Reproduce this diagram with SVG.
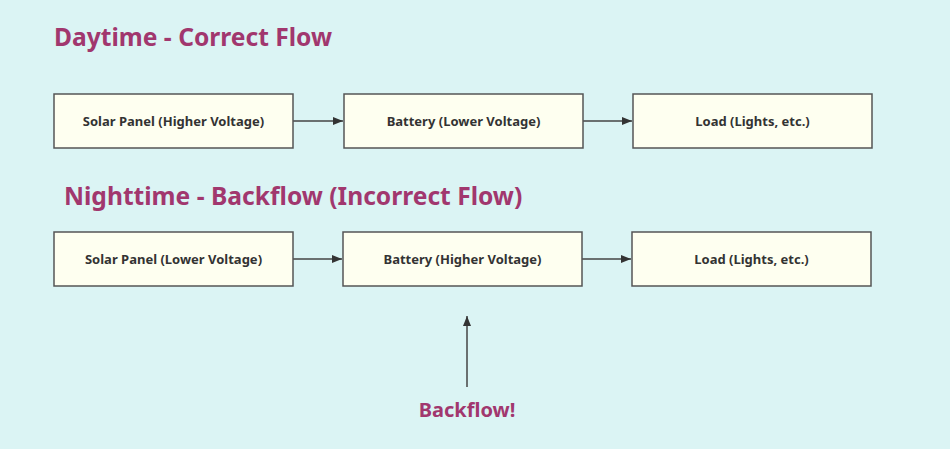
<svg xmlns="http://www.w3.org/2000/svg" width="950" height="449" viewBox="0 0 950 449">
<style>
.bg{fill:#dbf4f4}
.box{fill:#fefff0;stroke:#555;stroke-width:1.5}
.lbl{font-family:"Noto Sans","Open Sans",sans-serif;font-size:13px;font-weight:bold;fill:#333;text-anchor:middle;dominant-baseline:central}
.title{font-family:"Noto Sans","Open Sans",sans-serif;font-size:24.6px;font-weight:bold;fill:#a1376e}
.conn{stroke:#444;stroke-width:1.5;fill:none}
</style>
<defs>
<marker id="arr" markerWidth="10" markerHeight="8" refX="10" refY="4" orient="auto" markerUnits="userSpaceOnUse">
<path d="M0,0 L10,4 L0,8 z" fill="#333"/>
</marker>
</defs>
<rect class="bg" width="950" height="449"/>
<text class="title" x="54" y="46">Daytime - Correct Flow</text>
<text class="title" x="64" y="205">Nighttime - Backflow (Incorrect Flow)</text>
<g id="connectors">
<line class="conn" x1="293" y1="121" x2="343" y2="121" marker-end="url(#arr)"/>
<line class="conn" x1="583" y1="121" x2="632" y2="121" marker-end="url(#arr)"/>
<line class="conn" x1="293" y1="259" x2="342" y2="259" marker-end="url(#arr)"/>
<line class="conn" x1="582" y1="259" x2="631" y2="259" marker-end="url(#arr)"/>
<line class="conn" x1="467" y1="387" x2="467" y2="316" marker-end="url(#arr)"/>
</g>
<g id="day-solar"><rect class="box" x="54" y="94" width="239" height="54"/><text class="lbl" x="173.5" y="121">Solar Panel (Higher Voltage)</text></g>
<g id="day-battery"><rect class="box" x="344" y="94" width="239" height="54"/><text class="lbl" x="463.5" y="121">Battery (Lower Voltage)</text></g>
<g id="day-load"><rect class="box" x="633" y="94" width="239" height="54"/><text class="lbl" x="752.5" y="121">Load (Lights, etc.)</text></g>
<g id="night-solar"><rect class="box" x="54" y="232" width="239" height="54"/><text class="lbl" x="173.5" y="259">Solar Panel (Lower Voltage)</text></g>
<g id="night-battery"><rect class="box" x="343" y="232" width="239" height="54"/><text class="lbl" x="462.5" y="259">Battery (Higher Voltage)</text></g>
<g id="night-load"><rect class="box" x="632" y="232" width="239" height="54"/><text class="lbl" x="751.5" y="259">Load (Lights, etc.)</text></g>
<g id="backflow"><text x="467" y="417" text-anchor="middle" font-family="Noto Sans, Open Sans, sans-serif" font-size="20" font-weight="bold" fill="#a1376e">Backflow!</text></g>
</svg>
